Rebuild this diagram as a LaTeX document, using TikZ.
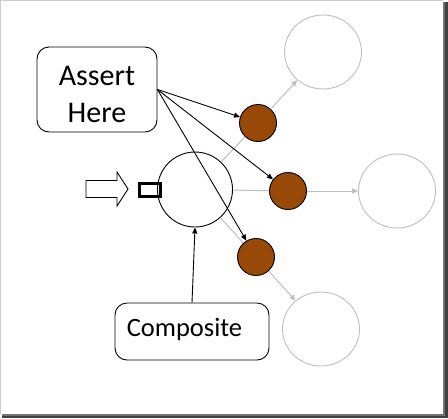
\documentclass[tikz,border=0pt]{standalone}
\usepackage{fontspec}
\setmainfont{Carlito}
\usetikzlibrary{arrows.meta,shapes.geometric}
\definecolor{brownfill}{HTML}{984807}
\definecolor{lightline}{HTML}{BFBFBF}
\begin{document}
\begin{tikzpicture}[x=1bp,y=-1bp,
  box/.style={draw=black,line width=0.9bp,rounded corners=12bp,fill=white,inner sep=0pt},
  hub/.style={draw=black,line width=0.9bp,circle,inner sep=0pt,minimum size=75bp},
  dot/.style={draw=black,line width=0.9bp,circle,fill=brownfill,inner sep=0pt,minimum size=37bp},
  ghost/.style={draw=lightline,line width=0.9bp,ellipse,inner sep=0pt,minimum width=77bp,minimum height=74bp},
  blk/.style={draw=black,line width=0.9bp,-{Triangle[length=6bp,width=5bp]}},
  gry/.style={draw=lightline,line width=1bp},
  gryarr/.style={gry,-{Triangle[length=6bp,width=5bp]}}
]
\useasboundingbox (0,0) rectangle (448,418);
% frame
\fill[white] (0,0) rectangle (443,414);
\draw[black!20,line width=0.8bp] (0.4,0.4) -- (0.4,414) ;
\draw[black!20,line width=0.8bp] (0.4,0.4) -- (443,0.4);
\fill[black!75] (443,2) rectangle (448,418);
\fill[black!75] (2,414) rectangle (448,418);
\fill[black!55] (443,2) rectangle (444.5,414);
\fill[black!55] (2,414) rectangle (444.5,415.5);

% shapes
\node[ghost] (g1) at (323,52) {};
\node[ghost] (g2) at (397,191) {};
\node[ghost] (g3) at (321,329) {};
\node[hub] (main) at (195,189.5) {};

% gray connectors
\draw[gry] (main) -- (258,123) coordinate (b1c);
\draw[gry] (main) -- (288,191) coordinate (b2c);
\draw[gry] (main) -- (256,257) coordinate (b3c);
\node[dot] (b1) at (b1c) {};
\node[dot] (b2) at (b2c) {};
\node[dot] (b3) at (b3c) {};
\draw[gryarr] (b1) -- (g1);
\draw[gryarr] (b2) -- (g2);
\draw[gryarr] (b3) -- (g3);

% port and input arrow
\node[draw=black,line width=2.6bp,minimum width=21bp,minimum height=13bp,inner sep=0pt] (port) at (150,190) {};
\draw[line width=0.9bp,fill=white] (86,180.5) -- (117,180.5) -- (117,172) -- (128,189) -- (117,206) -- (117,197.5) -- (86,197.5) -- cycle;

% boxes
\node[box,minimum width=120bp,minimum height=85bp] (assert) at (97,89.5) {};
\node[font=\fontsize{30bp}{37bp}\selectfont,align=center,inner sep=0pt] (atext) at (97,94) {Assert\\Here};
\node[box,minimum width=154bp,minimum height=57bp] (comp) at (192,331.5) {};
\node[font=\fontsize{26.5bp}{32bp}\selectfont,inner sep=0pt,anchor=base] (ctext) at (184.5,336) {Composite};

% black connectors
\draw[blk] (assert.east) -- (b1);
\draw[blk] (assert.east) -- (b2);
\draw[blk] (assert.east) -- (b3);
\draw[blk] (comp.north) -- (main.south);
\end{tikzpicture}
\end{document}
